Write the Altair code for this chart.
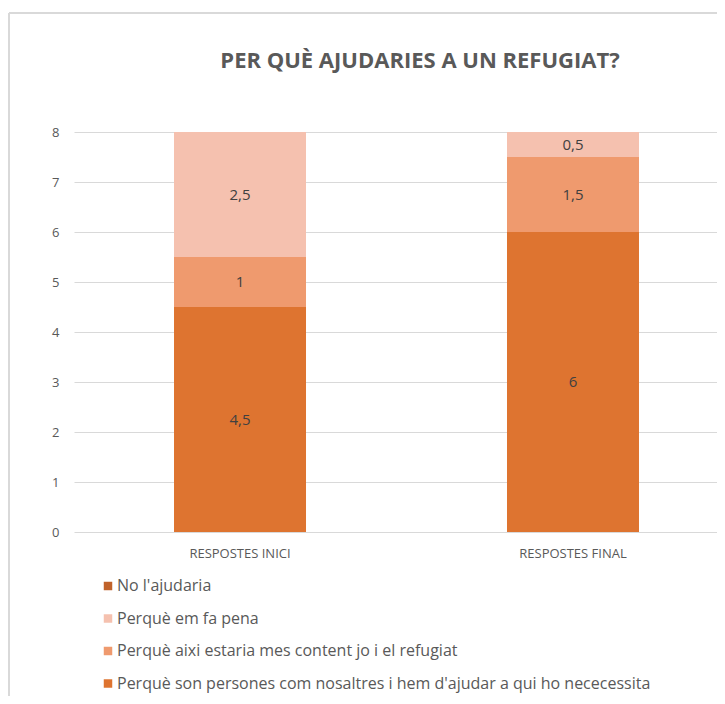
import altair as alt
import pandas as pd

categories = ["RESPOSTES INICI", "RESPOSTES FINAL"]
series = [
    "Perquè son persones com nosaltres i hem d'ajudar a qui ho nececessita",
    "Perquè aixi estaria mes content jo i el refugiat",
    "Perquè em fa pena",
    "No l'ajudaria",
]
values_inici = [4.5, 1, 2.5, 0]
values_final = [6, 1.5, 0.5, 0]
colors = ["#DE7430", "#EF9A6E", "#F5C1AF", "#C0622A"]
y_ticks = [0, 1, 2, 3, 4, 5, 6, 7, 8]
title_text = "PER QUÈ AJUDARIES A UN REFUGIAT?"

rows = []
for cat, vals in zip(categories, [values_inici, values_final]):
    for i, (s, v) in enumerate(zip(series, vals)):
        rows.append({"cat": cat, "series": s, "value": v, "ord": i,
                     "label": (("%g" % v).replace(".", ","))})
df = pd.DataFrame(rows)

legend_domain = list(reversed(series))
legend_range = list(reversed(colors))

x_enc = alt.X("cat:N", sort=categories,
              scale=alt.Scale(paddingInner=0.6036, paddingOuter=0.2673, align=0.5618),
              axis=alt.Axis(title=None, labelAngle=0, domain=False, ticks=False,
                            labelPadding=15, labelFontSize=13, labelColor="#595959"))

bars = alt.Chart(df).mark_bar().encode(
    x=x_enc,
    y=alt.Y("value:Q", stack="zero", scale=alt.Scale(domain=[0, 8]),
            axis=alt.Axis(title=None, values=y_ticks, domain=False, ticks=False,
                          labelPadding=15, labelFontSize=13, labelColor="#595959",
                          gridColor="#D9D9D9", gridWidth=1)),
    color=alt.Color("series:N",
                    scale=alt.Scale(domain=legend_domain, range=legend_range),
                    legend=alt.Legend(title=None, orient="none", legendX=26, legendY=446,
                                      symbolType="square", symbolSize=72,
                                      symbolStrokeWidth=0, labelFontSize=16,
                                      labelColor="#595959", rowPadding=16.5,
                                      labelOffset=1, labelLimit=0)),
    order=alt.Order("ord:Q"),
)

texts = alt.Chart(df).transform_stack(
    stack="value", groupby=["cat"], sort=[alt.SortField("ord")], as_=["y0", "y1"]
).transform_calculate(
    mid="(datum.y0 + datum.y1) / 2"
).transform_filter("datum.value > 0").mark_text(
    fontSize=15, color="#404040"
).encode(
    x=alt.X("cat:N", sort=categories),
    y=alt.Y("mid:Q"),
    text="label:N",
)

frame_df = pd.DataFrame({"a": [0]})
left_border = alt.Chart(frame_df).mark_rule(color="#D9D9D9", strokeWidth=2).encode(
    x=alt.value(-65), y=alt.value(-119), y2=alt.value(600))
top_border = alt.Chart(frame_df).mark_rule(color="#D9D9D9", strokeWidth=2).encode(
    x=alt.value(-65), x2=alt.value(700), y=alt.value(-119))

chart = alt.layer(bars, texts, left_border, top_border).properties(
    width=643, height=400,
    title=alt.Title(title_text, fontSize=22, fontWeight="bold", color="#595959",
                    anchor="middle", dx=24.5, offset=-61),
    autosize=alt.AutoSizeParams(type="none"),
    padding={"left": 66, "top": 124, "right": 0, "bottom": 164},
).configure(font="Open Sans").configure_view(stroke=None)

chart.save("out.html", embed_options={"renderer": "svg", "actions": False})
